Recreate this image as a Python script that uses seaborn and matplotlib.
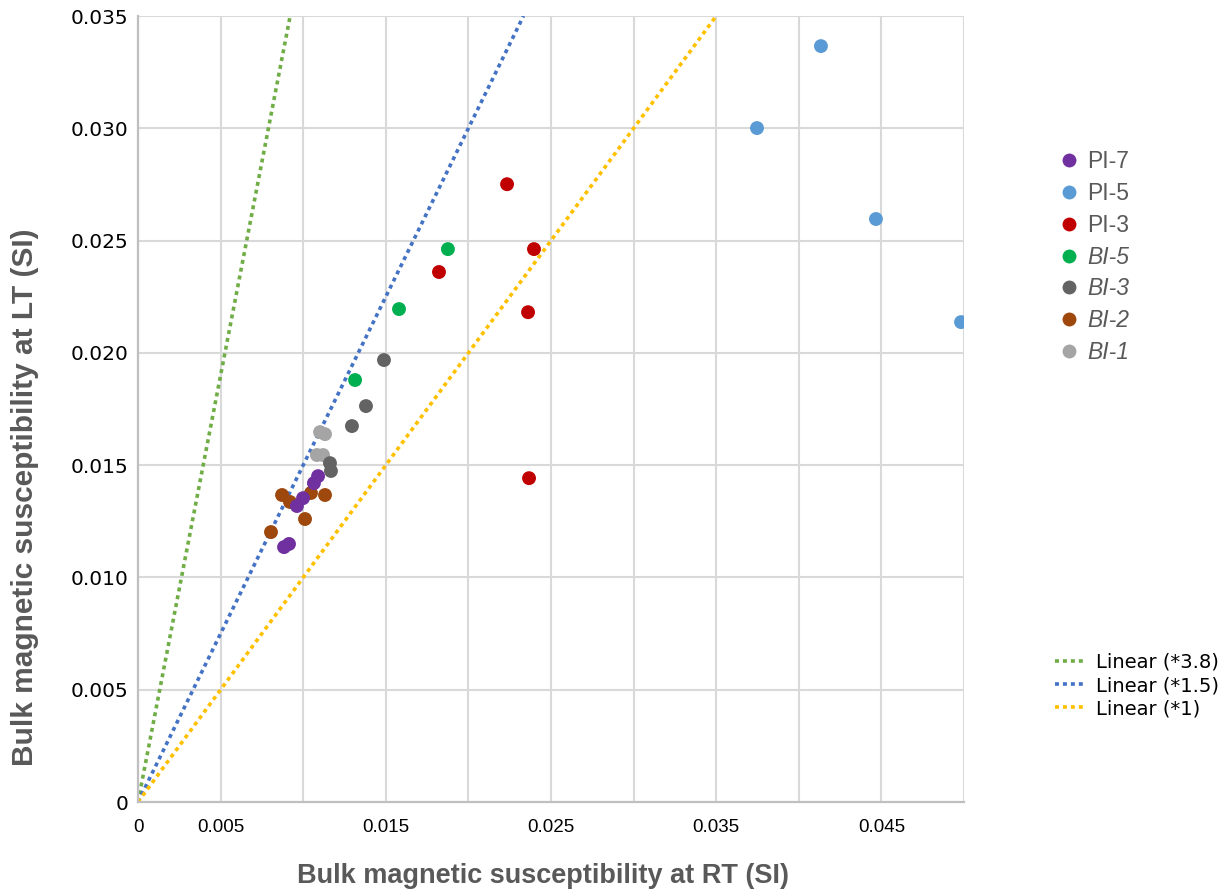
import matplotlib
matplotlib.use("Agg")
import matplotlib.pyplot as plt
import seaborn as sns
import pandas as pd
import numpy as np
from matplotlib.lines import Line2D

# ---- data ----
series_names = ["PI-7", "PI-5", "PI-3", "BI-5", "BI-3", "BI-2", "BI-1"]
series_colors = ["#7030A0", "#5B9BD5", "#C00000", "#00B050", "#636363", "#9E480E", "#A5A5A5"]

pi7_rt = [0.01090, 0.01065, 0.00999, 0.00962, 0.00914, 0.00884]
pi7_lt = [0.01451, 0.01420, 0.01353, 0.01318, 0.01149, 0.01135]

pi5_rt = [0.03747, 0.04134, 0.04467, 0.04982]
pi5_lt = [0.03001, 0.03366, 0.02596, 0.02137]

pi3_rt = [0.02234, 0.02397, 0.01822, 0.02361, 0.02367]
pi3_lt = [0.02751, 0.02462, 0.02360, 0.02181, 0.01442]

bi5_rt = [0.01876, 0.01580, 0.01314]
bi5_lt = [0.02462, 0.02195, 0.01879]

bi3_rt = [0.01489, 0.01380, 0.01295, 0.01162, 0.01168]
bi3_lt = [0.01968, 0.01763, 0.01674, 0.01509, 0.01474]

bi2_rt = [0.00872, 0.00920, 0.01047, 0.01132, 0.01011, 0.00805]
bi2_lt = [0.01367, 0.01336, 0.01376, 0.01367, 0.01260, 0.01202]

bi1_rt = [0.01102, 0.01132, 0.01083, 0.01120]
bi1_lt = [0.01647, 0.01638, 0.01545, 0.01545]

line_labels = ["Linear (*3.8)", "Linear (*1.5)", "Linear (*1)"]
line_slopes = [3.8, 1.5, 1.0]
line_colors = ["#70AD47", "#4472C4", "#FFC000"]

x_ticks = [0, 0.005, 0.015, 0.025, 0.035, 0.045]
x_tick_labels = ["0", "0.005", "0.015", "0.025", "0.035", "0.045"]
y_ticks = [0, 0.005, 0.010, 0.015, 0.020, 0.025, 0.030, 0.035]
y_tick_labels = ["0", "0.005", "0.010", "0.015", "0.020", "0.025", "0.030", "0.035"]

all_rt = [pi7_rt, pi5_rt, pi3_rt, bi5_rt, bi3_rt, bi2_rt, bi1_rt]
all_lt = [pi7_lt, pi5_lt, pi3_lt, bi5_lt, bi3_lt, bi2_lt, bi1_lt]

frames = []
for name, rt, lt in zip(series_names, all_rt, all_lt):
    frames.append(pd.DataFrame({"RT": rt, "LT": lt, "series": name}))
# draw BI-1 first and PI-7 last (top)
df = pd.concat(frames[::-1], ignore_index=True)

# ---- figure ----
sns.set_theme(style="white")
plt.rcParams["font.family"] = ["DejaVu Sans"]

W, H = 1225, 896
fig = plt.figure(figsize=(W / 100, H / 100), dpi=100)
ax = fig.add_axes([138/W, 1 - 802/H, (964-138)/W, (802-16)/H])

XMAX, YMAX = 0.05, 0.035

# trend lines
for lab, k, c in zip(line_labels, line_slopes, line_colors):
    xs = np.array([0.0, min(XMAX, YMAX / k)])
    sns.lineplot(x=xs, y=k * xs, ax=ax, color=c, linewidth=2.6,
                 linestyle=(0, (1.1, 1.1)), dash_capstyle="butt", zorder=2,
                 legend=False)

sns.scatterplot(data=df, x="RT", y="LT", hue="series",
                palette=dict(zip(series_names, series_colors)),
                s=100, linewidth=0, ax=ax, legend=False, zorder=3)

ax.set_xlabel("")
ax.set_ylabel("")
ax.set_xlim(0, XMAX)
ax.set_ylim(0, YMAX)
ax.set_xticks(np.arange(0, XMAX + 1e-9, 0.005), minor=True)
ax.set_xticks(x_ticks)
ax.set_xticklabels(x_tick_labels, family=["Liberation Sans"],
                   fontsize=13.5, color="black")
ax.set_yticks(y_ticks)
ax.set_yticklabels(y_tick_labels, fontsize=14.5, color="black")
ax.grid(True, which="both", axis="x", color="#D9D9D9", linewidth=1.5)
ax.grid(True, which="major", axis="y", color="#D9D9D9", linewidth=1.5)
ax.set_axisbelow(True)
ax.tick_params(axis="both", which="both", length=0, pad=7)
ax.tick_params(axis="x", pad=12)
for sp in ["top", "right"]:
    ax.spines[sp].set_visible(False)
for sp in ["left", "bottom"]:
    ax.spines[sp].set_color("#BFBFBF")
    ax.spines[sp].set_linewidth(1.6)

# axis titles
fig.text(543/W, 1 - 876/H, "Bulk magnetic susceptibility at RT (SI)",
         family=["Liberation Sans"], fontweight="bold", fontsize=19.5,
         color="#595959", ha="center", va="center")
fig.text(25/W, 1 - 497/H, "Bulk magnetic susceptibility at LT (SI)",
         family=["Liberation Sans"], fontweight="bold", fontsize=21.5,
         color="#595959", ha="center", va="center", rotation=90)

# legend 1: series
handles1 = [Line2D([], [], marker="o", linestyle="", markersize=10,
                   markerfacecolor=c, markeredgewidth=0) for c in series_colors]
leg1 = fig.legend(handles1, series_names, loc="upper left",
                  bbox_to_anchor=(1046/W, 1 - 139/H), frameon=False,
                  prop={"family": "Liberation Sans", "size": 16.5},
                  labelspacing=0.38, handletextpad=0.3, handlelength=1.0,
                  borderpad=0)
for t in leg1.get_texts():
    t.set_color("#595959")
    if t.get_text().startswith("BI"):
        t.set_fontstyle("italic")

# legend 2: lines
handles2 = [Line2D([], [], color=c, linewidth=2.6, linestyle=(0, (1.1, 1.1)),
                   dash_capstyle="butt") for c in line_colors]
leg2 = fig.legend(handles2, line_labels, loc="upper left",
                  bbox_to_anchor=(1045/W, 1 - 643/H), frameon=False,
                  prop={"family": "DejaVu Sans", "size": 14},
                  labelspacing=0.22, handletextpad=0.6, handlelength=1.5,
                  borderpad=0)
for t in leg2.get_texts():
    t.set_color("black")

fig.savefig("out.png", dpi=100)
